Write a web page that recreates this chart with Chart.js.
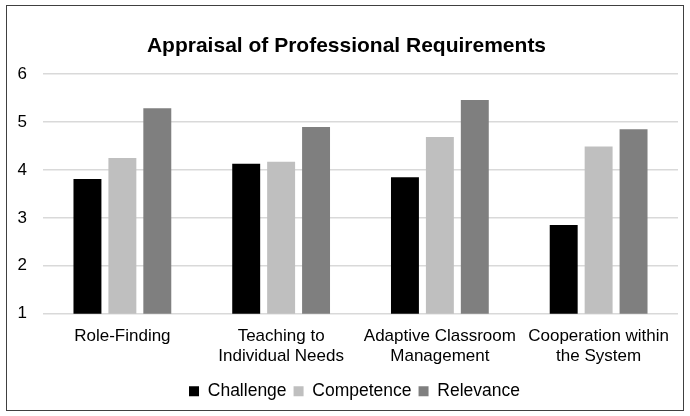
<!DOCTYPE html>
<html>
<head>
<meta charset="utf-8">
<script src="https://cdn.jsdelivr.net/npm/chart.js@4"></script>
<style>
  html, body { margin: 0; padding: 0; background: #fff; }
  #frame {
    position: absolute; left: 6px; top: 5px;
    width: 676px; height: 404px;
    border: 1px solid #404040;
  }
  #chart { display: block; }
</style>
</head>
<body>
<div id="frame"><canvas id="chart" width="676" height="404"></canvas></div>
<script>
// categories (multi-line labels)
const categories = [
    'Role-Finding',
    ['Teaching to', 'Individual Needs'],
    ['Adaptive Classroom', 'Management'],
    ['Cooperation within', 'the System']
];

// series values
const challenge = [3.81, 4.13, 3.85, 2.85];
const competence = [4.25, 4.17, 4.69, 4.49];
const relevance = [5.29, 4.90, 5.46, 4.85];

const yTicks = [1, 2, 3, 4, 5, 6];

const font = "'Liberation Sans', Arial, sans-serif";

// the title and legend sit a little right of the canvas centre in the original
const nudgeBoxes = {
    id: 'nudgeBoxes',
    afterLayout(chart) {
        if (chart.titleBlock) { chart.titleBlock.left += 4; chart.titleBlock.right += 4; }
        if (chart.legend) { chart.legend.left += 12; chart.legend.right += 12; }
    }
};

new Chart(document.getElementById('chart'), {
    type: 'bar',
    data: {
        labels: categories,
        datasets: [
            { label: 'Challenge', data: challenge, backgroundColor: '#000000' },
            { label: 'Competence', data: competence, backgroundColor: '#bfbfbf' },
            { label: 'Relevance', data: relevance, backgroundColor: '#7f7f7f' }
        ]
    },
    options: {
        responsive: false,
        animation: false,
        datasets: { bar: { categoryPercentage: 0.66, barPercentage: 0.8 } },
        layout: { padding: { left: 0, right: 5, top: 28, bottom: 0 } },
        plugins: {
            title: {
                display: true,
                text: 'Appraisal of Professional Requirements',
                color: '#000',
                font: { family: font, size: 21, weight: 'bold' },
                padding: { top: 0, bottom: 15 }
            },
            legend: {
                position: 'bottom',
                labels: {
                    color: '#000',
                    font: { family: font, size: 17.5 },
                    boxWidth: 10,
                    boxHeight: 10,
                    padding: 7
                }
            },
            tooltip: { enabled: false }
        },
        scales: {
            x: {
                grid: { display: false },
                border: { display: false },
                ticks: {
                    color: '#000',
                    font: { family: font, size: 17 },
                    maxRotation: 0,
                    padding: 4
                },
                afterFit: axis => { axis.height += 5; }
            },
            y: {
                min: yTicks[0],
                max: yTicks[yTicks.length - 1],
                afterBuildTicks: axis => { axis.ticks = yTicks.map(v => ({ value: v })); },
                grid: { color: '#d9d9d9', lineWidth: 1.5, drawTicks: false },
                border: { display: false },
                ticks: {
                    color: '#000',
                    font: { family: font, size: 17 },
                    padding: 16
                },
                afterFit: axis => { axis.width = 36; }
            }
        }
    },
    plugins: [nudgeBoxes]
});
</script>
</body>
</html>
